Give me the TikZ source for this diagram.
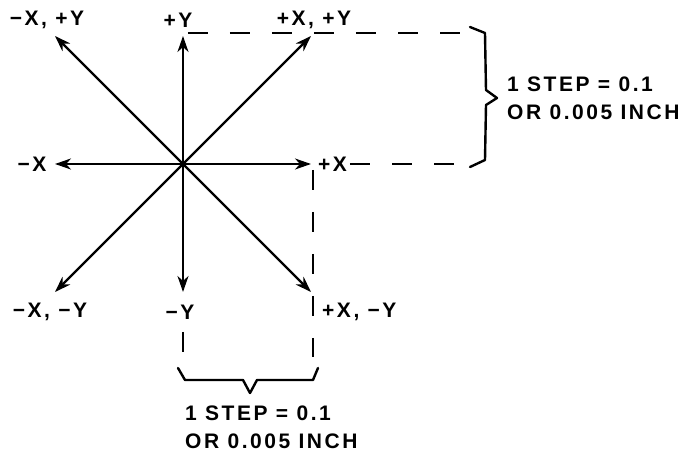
\documentclass[tikz,border=0pt]{standalone}
\usepackage{fontspec}
\setmainfont{Liberation Sans}[LetterSpace=12]
\usetikzlibrary{arrows.meta}

\begin{document}
\begin{tikzpicture}[
   x=1pt, y=1pt,
   lbl/.style={font=\bfseries\fontsize{21}{28}\selectfont, inner sep=0, text=black},
   axis/.style={-{Stealth[length=16pt, width=11pt, inset=5pt]}, line width=2.2pt},
   guide/.style={dash pattern=on 20pt off 22pt, line width=2.4pt},
   bracket/.style={line width=2.4pt, line join=round, line cap=round}
  ]

  % Arm length
  \pgfmathsetmacro{\d}{128}

  \useasboundingbox (-183, -291) rectangle (506, 164);

  \coordinate (O) at (0, 0);
  \coordinate (px) at (1 * \d, 0);
  \coordinate (nx) at (-1 * \d, 0);
  \coordinate (py) at (0, 1 * \d);
  \coordinate (ny) at (0, -1 * \d);
  \coordinate (pp) at (1 * \d, 1 * \d);
  \coordinate (np) at (-1 * \d, 1 * \d);
  \coordinate (pn) at (1 * \d, -1 * \d);
  \coordinate (nn) at (-1 * \d, -1 * \d);

  \node (Lnp) at (-136, 144) [lbl] {−X, +Y};
  \node (Lpy) at (-5, 144) [lbl] {+Y};
  \node (Lpp) at (131, 144) [lbl] {+X, +Y};
  \node (Lnx) at (-151, 0) [lbl] {−X};
  \node (Lpx) at (135, 0) [lbl, anchor=west] {+X};
  \node (Lnn) at (-133, -148) [lbl] {−X, −Y};
  \node (Lny) at (-3, -148) [lbl] {−Y};
  \node (Lpn) at (139, -148) [lbl, anchor=west] {+X, −Y};

  \node (Sright) at (324, 66) [lbl, anchor=west, align=left] {1 STEP = 0.1\\OR 0.005 INCH};
  \node (Sdown) at (2, -263) [lbl, anchor=west, align=left] {1 STEP = 0.1\\OR 0.005 INCH};

  \foreach \E in {px, nx, py, ny, pp, np, pn, nn} {
    \draw[axis] (O) -- (\E);
  }

  % step guides
  \draw[guide] (5, 131) -- (277, 131);
  \draw[guide] (167, 0) -- (277, 0);
  \draw[guide] (130, -6) -- (130, -193);
  \draw[guide] (0, -168) -- (0, -191);

  \draw[bracket] (287, 137) -- (302, 131) -- (303, 74) -- (314, 66) -- (303, 59)
                 -- (302, 4) -- (287, -3);
  \draw[bracket] (-5, -204) -- (2, -216) -- (60, -216) -- (67, -229) -- (74, -216)
                 -- (130, -216) -- (135, -204);

\end{tikzpicture}
\end{document}
